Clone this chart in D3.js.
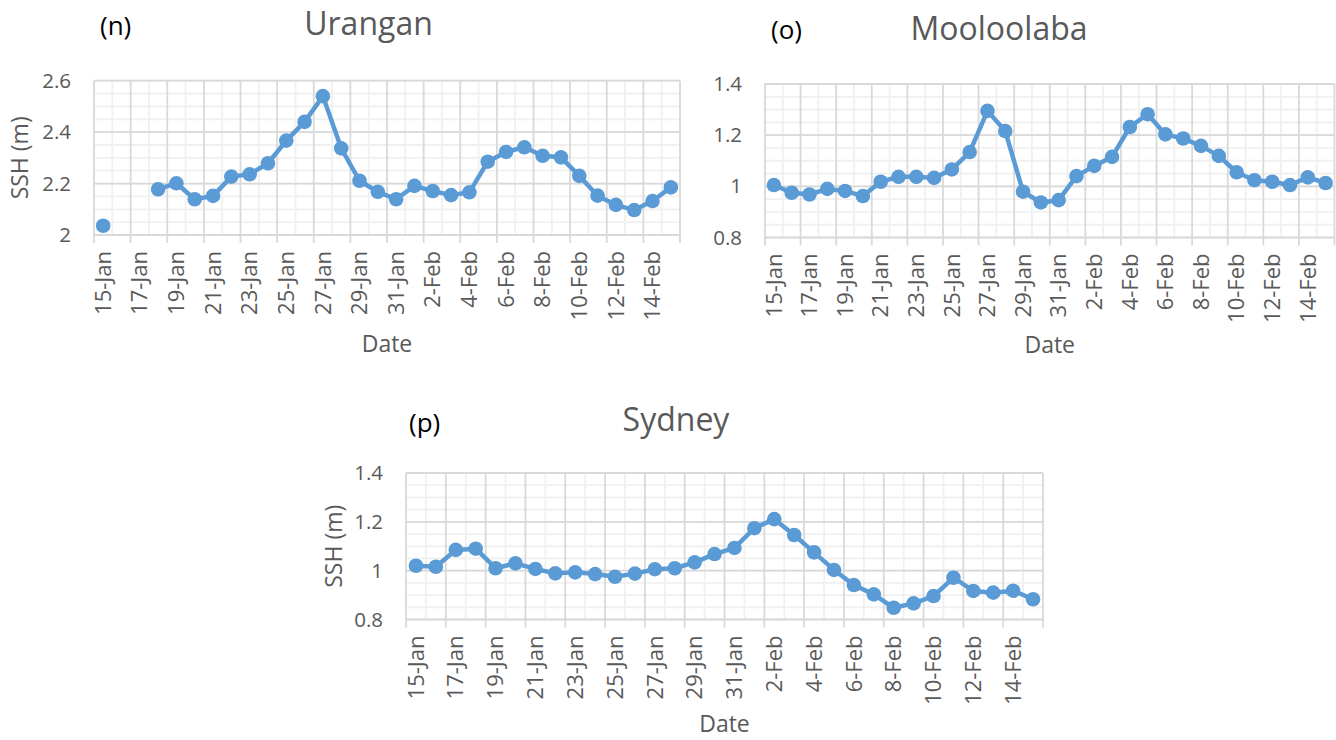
<!DOCTYPE html>
<html>
<head>
<meta charset="utf-8">
<script src="https://cdn.jsdelivr.net/npm/d3@7"></script>
<style>
  body { margin: 0; background: #fff; }
  svg { display: block; font-family: "Open Sans", sans-serif; }
</style>
</head>
<body>
<div id="chart"></div>
<script>
// Categories: one per day
const dates = [
  '15-Jan', '16-Jan', '17-Jan', '18-Jan', '19-Jan', '20-Jan', '21-Jan', '22-Jan',
  '23-Jan', '24-Jan', '25-Jan', '26-Jan', '27-Jan', '28-Jan', '29-Jan', '30-Jan',
  '31-Jan', '1-Feb', '2-Feb', '3-Feb', '4-Feb', '5-Feb', '6-Feb', '7-Feb',
  '8-Feb', '9-Feb', '10-Feb', '11-Feb', '12-Feb', '13-Feb', '14-Feb', '15-Feb'
];
// Labels shown on the x axis (every second day)
const dateTicks = [
  '15-Jan', '17-Jan', '19-Jan', '21-Jan', '23-Jan', '25-Jan', '27-Jan', '29-Jan',
  '31-Jan', '2-Feb', '4-Feb', '6-Feb', '8-Feb', '10-Feb', '12-Feb', '14-Feb'
];

// Series values (SSH, m)
const uranganSSH = [
  2.036, null, null, 2.178, 2.201, 2.139, 2.152, 2.227,
  2.236, 2.279, 2.367, 2.440, 2.540, 2.337, 2.211, 2.168,
  2.139, 2.191, 2.171, 2.155, 2.166, 2.285, 2.323, 2.341,
  2.308, 2.302, 2.230, 2.153, 2.117, 2.097, 2.132, 2.185
];
const mooloolabaSSH = [
  1.005, 0.975, 0.968, 0.990, 0.982, 0.962, 1.018, 1.037,
  1.037, 1.033, 1.066, 1.134, 1.295, 1.216, 0.979, 0.937,
  0.946, 1.040, 1.080, 1.115, 1.232, 1.282, 1.203, 1.187,
  1.158, 1.119, 1.055, 1.024, 1.018, 1.005, 1.035, 1.013
];
const sydneySSH = [
  1.020, 1.016, 1.085, 1.090, 1.010, 1.030, 1.007, 0.989,
  0.993, 0.986, 0.975, 0.988, 1.006, 1.010, 1.034, 1.068,
  1.093, 1.174, 1.211, 1.146, 1.075, 1.003, 0.941, 0.903,
  0.848, 0.866, 0.896, 0.971, 0.917, 0.910, 0.918, 0.883
];

// Y tick labels
const uranganTicks = [2, 2.2, 2.4, 2.6];
const mooloolabaTicks = [0.8, 1, 1.2, 1.4];
const sydneyTicks = [0.8, 1, 1.2, 1.4];

// Panel layout
const panels = [
  { tag: '(n)', title: 'Urangan', values: uranganSSH, ticks: uranganTicks,
    left: 94, right: 680, top: 80.7, bottom: 235, yTitle: true,
    titleX: 368.5, titleY: 35, tagX: 100, tagY: 35, yTitleX: 28, dateY: 352 },
  { tag: '(o)', title: 'Mooloolaba', values: mooloolabaSSH, ticks: mooloolabaTicks,
    left: 765, right: 1334.5, top: 84, bottom: 237.5, yTitle: false,
    titleX: 999, titleY: 40, tagX: 771, tagY: 39, yTitleX: 0, dateY: 353 },
  { tag: '(p)', title: 'Sydney', values: sydneySSH, ticks: sydneyTicks,
    left: 406, right: 1043, top: 473, bottom: 619.5, yTitle: true,
    titleX: 676, titleY: 431, tagX: 409, tagY: 432, yTitleX: 341.5, dateY: 732 }
];

const color = '#5b9bd5';
const textColor = '#595959';
const majorGrid = '#d9d9d9';
const minorGrid = '#f0f0f0';

const svg = d3.select('#chart')
  .append('svg')
  .attr('width', 1336)
  .attr('height', 740);

panels.forEach(p => {
  const g = svg.append('g');

  const x = d3.scaleBand()
    .domain(dates)
    .range([p.left, p.right])
    .padding(0);
  const bw = x.bandwidth();

  const y = d3.scaleLinear()
    .domain([p.ticks[0], p.ticks[p.ticks.length - 1]])
    .range([p.bottom, p.top]);

  // Minor horizontal grid (0.05 steps)
  const yMinor = d3.range(p.ticks[0], p.ticks[p.ticks.length - 1] + 0.001, 0.05);
  g.append('g').selectAll('line')
    .data(yMinor)
    .join('line')
      .attr('x1', p.left).attr('x2', p.right)
      .attr('y1', d => y(d)).attr('y2', d => y(d))
      .attr('stroke', minorGrid).attr('stroke-width', 1.8);

  // Minor vertical grid (each day boundary)
  const bounds = d3.range(dates.length + 1).map(i => p.left + i * bw);
  g.append('g').selectAll('line')
    .data(bounds.filter((d, i) => i % 2 === 1))
    .join('line')
      .attr('x1', d => d).attr('x2', d => d)
      .attr('y1', p.top).attr('y2', p.bottom)
      .attr('stroke', minorGrid).attr('stroke-width', 1.8);

  // Major horizontal grid
  g.append('g').selectAll('line')
    .data(p.ticks)
    .join('line')
      .attr('x1', p.left).attr('x2', p.right)
      .attr('y1', d => y(d)).attr('y2', d => y(d))
      .attr('stroke', majorGrid).attr('stroke-width', 1.8);

  // Major vertical grid + tick marks (every two days)
  const majorBounds = bounds.filter((d, i) => i % 2 === 0);
  g.append('g').selectAll('line')
    .data(majorBounds)
    .join('line')
      .attr('x1', d => d).attr('x2', d => d)
      .attr('y1', p.top).attr('y2', p.bottom + 8)
      .attr('stroke', majorGrid).attr('stroke-width', 1.8);

  // X axis labels
  const xAxis = d3.axisBottom(x)
    .tickValues(dateTicks)
    .tickSize(0);
  const xg = g.append('g')
    .attr('transform', `translate(0, ${p.bottom})`)
    .call(xAxis);
  xg.select('.domain').remove();
  xg.selectAll('text')
    .attr('x', -16)
    .attr('y', 0)
    .attr('dy', '0.35em')
    .attr('transform', 'rotate(-90)')
    .style('text-anchor', 'end')
    .style('font-size', '22px')
    .style('font-family', '"Open Sans", sans-serif')
    .attr('fill', textColor);

  // Y axis labels
  const yAxis = d3.axisLeft(y)
    .tickValues(p.ticks)
    .tickSize(0)
    .tickPadding(23)
    .tickFormat(d => d3.format('~g')(d));
  const yg = g.append('g')
    .attr('transform', `translate(${p.left}, 0)`)
    .call(yAxis);
  yg.select('.domain').remove();
  yg.selectAll('text')
    .style('font-size', '20.5px')
    .style('font-family', '"Open Sans", sans-serif')
    .attr('fill', textColor);

  // Line (gaps where data is missing)
  const line = d3.line()
    .defined(d => d.v != null)
    .x(d => x(d.date) + bw / 2)
    .y(d => y(d.v));
  const pts = dates.map((date, i) => ({ date, v: p.values[i] }));

  g.append('path')
    .datum(pts)
    .attr('d', line)
    .attr('fill', 'none')
    .attr('stroke', color)
    .attr('stroke-width', 4.5)
    .attr('stroke-linejoin', 'round');

  g.append('g').selectAll('circle')
    .data(pts.filter(d => d.v != null))
    .join('circle')
      .attr('cx', d => x(d.date) + bw / 2)
      .attr('cy', d => y(d.v))
      .attr('r', 7.3)
      .attr('fill', color);

  // Titles
  g.append('text')
    .attr('x', p.titleX).attr('y', p.titleY)
    .attr('text-anchor', 'middle')
    .attr('fill', textColor)
    .style('font-size', '32px')
    .text(p.title);

  g.append('text')
    .attr('x', p.tagX).attr('y', p.tagY)
    .attr('fill', '#000')
    .style('font-size', '26px')
    .text(p.tag);

  g.append('text')
    .attr('x', (p.left + p.right) / 2).attr('y', p.dateY)
    .attr('text-anchor', 'middle')
    .attr('fill', textColor)
    .style('font-size', '23px')
    .text('Date');

  if (p.yTitle) {
    g.append('text')
      .attr('transform', `translate(${p.yTitleX}, ${(p.top + p.bottom) / 2}) rotate(-90)`)
      .attr('text-anchor', 'middle')
      .attr('fill', textColor)
      .style('font-size', '23px')
      .text('SSH (m)');
  }
});
</script>
</body>
</html>
